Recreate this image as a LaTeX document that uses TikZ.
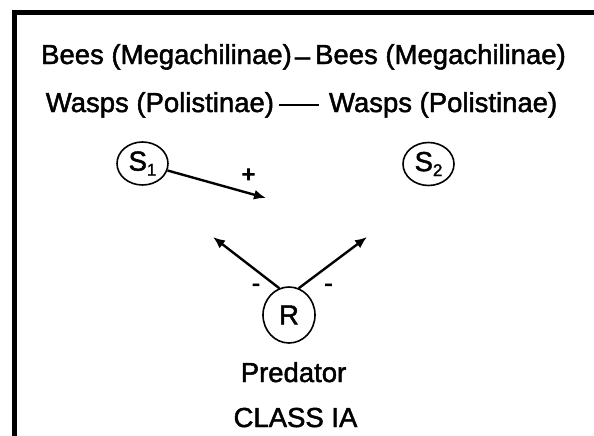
\documentclass[tikz,border=0pt]{standalone}
\usepackage{fontspec}
\setmainfont{Liberation Sans}[BoldFont={Liberation Sans}, BoldFeatures={FakeBold=1.7}]
\newfontfamily\signfont{Liberation Sans}[BoldFont={Liberation Sans}, BoldFeatures={FakeBold=4}]
\usetikzlibrary{arrows.meta,shapes.geometric}

\newcommand{\lowidx}[1]{\raisebox{-5pt}{\fontsize{17}{17}\selectfont #1}}

\tikzset{
  species/.style={draw, ellipse, line width=1.6pt, minimum width=51pt, minimum height=43pt, inner sep=0pt},
  effect/.style={line width=2.4pt, -{Latex[length=12pt,width=10pt]}},
  sign/.style={anchor=base, font=\fontsize{23}{23}\signfont\bfseries},
}

\begin{document}
\begin{tikzpicture}[x=1pt,y=-1pt,font=\fontsize{27.5}{30}\selectfont\bfseries]
  \useasboundingbox (0,0) rectangle (594,436);

  % Draw the frame
  \draw[line width=5pt] (14,436) -- (14,13) -- (594,13);

  % Draw the species pairs
  \node[anchor=base] (bees) at (303.5,64) {Bees (Megachilinae)\hspace{3pt}\raisebox{-1.5pt}{--}\hspace{5pt}Bees (Megachilinae)};
  \node[anchor=base] (wasps) at (301.5,112) {Wasps (Polistinae)\hspace{5pt}\rule[6pt]{40pt}{2.4pt}\hspace{10pt}Wasps (Polistinae)};

  % Draw the species and the resource
  \node[species] (s1) at (142.5,163.5) {S\lowidx{1}};
  \node[species] (s2) at (428.5,164) {S\lowidx{2}};
  \node[species, minimum width=52pt, minimum height=56pt] (r) at (289,315) {R};

  % Draw the effects
  \coordinate (hit) at (266,198);
  \coordinate (backL) at (213,237);
  \coordinate (backR) at (367,237);
  \draw[effect] (s1) -- (hit);
  \draw[effect] (r.110) -- (backL);
  \draw[effect] (r.70) -- (backR);
  \node[sign] (plus) at (248.5,182) {+};
  \node[sign] (minusL) at (256,291) {-};
  \node[sign] (minusR) at (328.5,291) {-};

  % Draw the labels
  \node[anchor=base] (pred) at (293.5,382) {Predator};
  \node[anchor=base] (cls) at (295.5,427) {CLASS IA};
\end{tikzpicture}
\end{document}
